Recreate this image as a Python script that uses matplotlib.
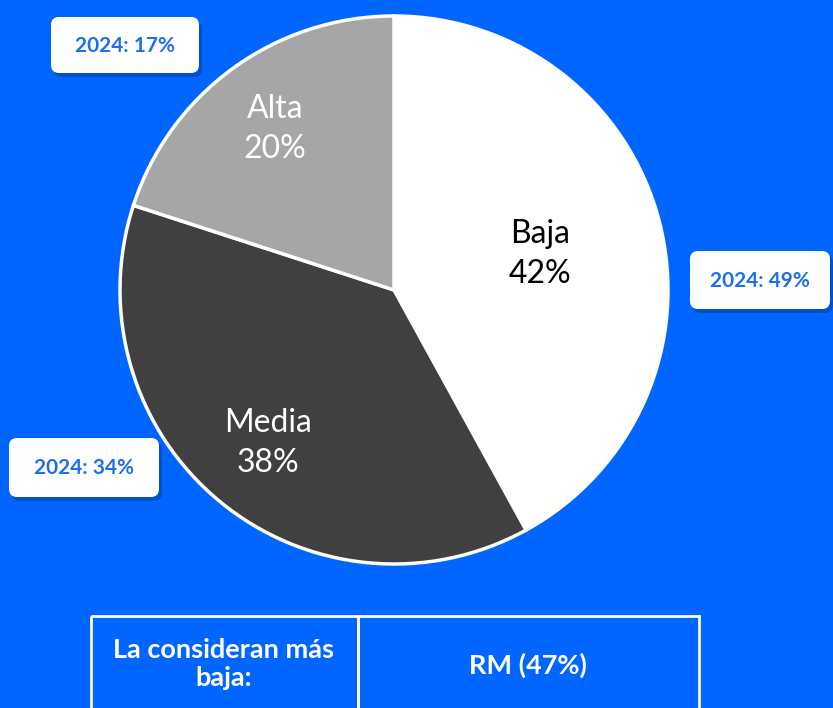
import matplotlib.pyplot as plt
from matplotlib.patches import FancyBboxPatch, Rectangle

labels = ['Baja', 'Media', 'Alta']
values = [42, 38, 20]
colors = ['#FFFFFF', '#404040', '#A6A6A6']
label_colors = ['black', 'white', 'white']
prev_year = ['2024: 49%', '2024: 34%', '2024: 17%']
table_left = 'La consideran más\nbaja:'
table_right = 'RM (47%)'

BG = '#0066FF'
W, H = 833, 708

fig = plt.figure(figsize=(W / 100, H / 100), dpi=100, facecolor=BG)

# pie drawn in its own axes so angles go clockwise from top
cx, cy, r = 394, 290, 274
pax = fig.add_axes([(cx - r) / W, 1 - (cy + r) / H, 2 * r / W, 2 * r / H])
pax.pie(values, colors=colors, startangle=90, counterclock=False,
        wedgeprops=dict(edgecolor='white', linewidth=2.5))
pax.set_xlim(-1, 1)
pax.set_ylim(-1, 1)
pax.set_aspect('auto')
pax.axis('off')

# overlay in pixel coordinates for text and boxes
ax = fig.add_axes([0, 0, 1, 1])
ax.patch.set_alpha(0)
ax.set_xlim(0, W)
ax.set_ylim(H, 0)
ax.axis('off')

label_pos = [(540, 254), (268, 443), (275, 129)]
for (x, y), lab, v, c in zip(label_pos, labels, values, label_colors):
    ax.text(x, y, f'{lab}\n{v}%', ha='center', va='center', fontsize=23,
            color=c, family='Lato', linespacing=1.45)

# previous-year callouts
boxes = [(690, 251, 140, 58), (9, 438, 150, 59), (51, 17, 148, 56)]
for (x, y, w, h), t in zip(boxes, prev_year):
    ax.add_patch(FancyBboxPatch((x + 3, y + 4), w, h, boxstyle='round,pad=0,rounding_size=8',
                                facecolor='#0040B0', edgecolor='none', alpha=0.6))
    ax.add_patch(FancyBboxPatch((x, y), w, h, boxstyle='round,pad=0,rounding_size=8',
                                facecolor='white', edgecolor='none'))
    ax.text(x + w / 2, y + h / 2 + 1, t, ha='center', va='center', fontsize=15,
            fontweight='bold', color='#1F6FEB', family='Lato')

# table at bottom
ax.add_patch(Rectangle((91, 616), 267, 100, facecolor='none', edgecolor='white', linewidth=2))
ax.add_patch(Rectangle((358, 616), 341, 100, facecolor='none', edgecolor='white', linewidth=2))
ax.text(224, 664, table_left, ha='center', va='center', fontsize=19.5, fontweight='bold',
        color='white', family='Lato', linespacing=1.2)
ax.text(528, 665, table_right, ha='center', va='center', fontsize=19.5, fontweight='bold',
        color='white', family='Lato')

fig.savefig('out.png', dpi=100, facecolor=BG)
